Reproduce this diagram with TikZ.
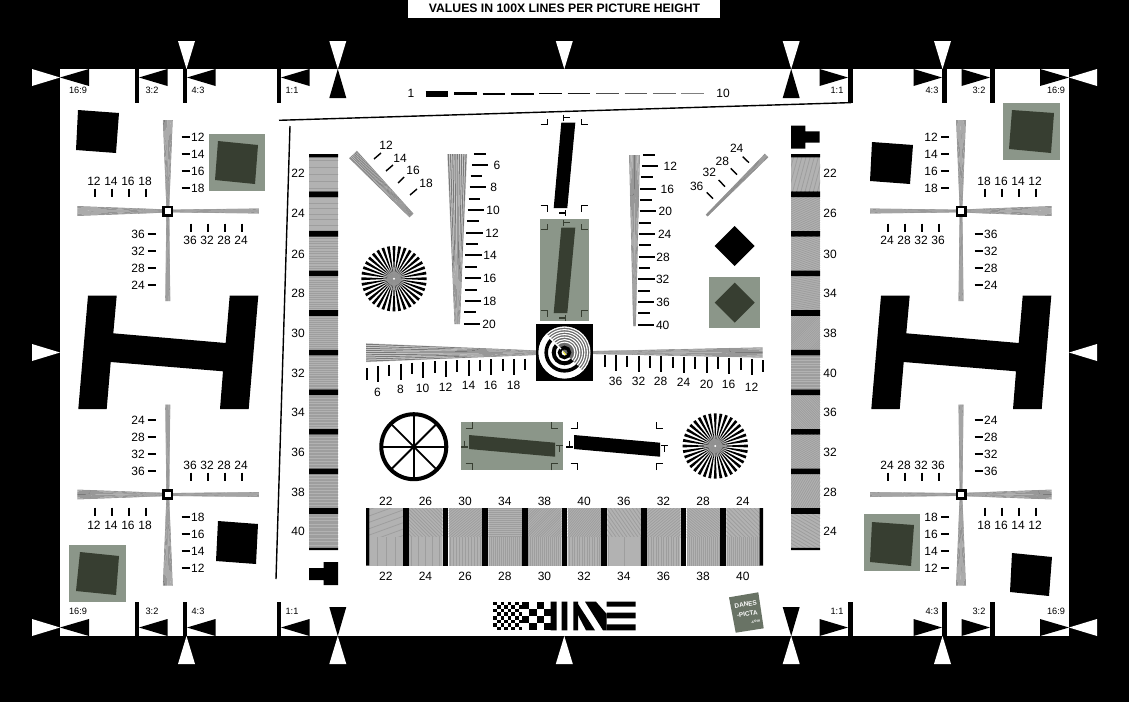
\documentclass[tikz,border=0pt]{standalone}
\usepackage{fontspec}
\setmainfont{Liberation Sans}
\usepackage{tikz}
\definecolor{panel}{HTML}{8B9689}
\definecolor{panelink}{HTML}{373E31}
\definecolor{logogreen}{HTML}{697365}
\tikzstyle{lab} = [font=\fontsize{12}{13}\selectfont, inner sep=0pt, text=black]
\tikzstyle{smalllab} = [font=\fontsize{9.2}{10}\selectfont, inner sep=0pt, text=black]
\tikzstyle{tick} = [black, line width=1.9pt, xshift=.5pt, yshift=.5pt]
\tikzstyle{cropmark} = [line width=1.1pt]
\tikzstyle{taperbase} = [fill=black!18]
\tikzstyle{taperline} = [fill=black!52]
\tikzstyle{moirebase} = [fill=black!30]
\tikzstyle{moireline} = [black!38, line width=0.8pt]

% tapered line wedge: wide end, thin end, wide width, thin width
\newcommand{\taper}[6]{
	\pgfmathsetmacro{\dxx}{#3-#1}
	\pgfmathsetmacro{\dyy}{#4-#2}
	\pgfmathsetmacro{\tlen}{veclen(\dxx,\dyy)}
	\pgfmathsetmacro{\nxx}{-\dyy/\tlen}
	\pgfmathsetmacro{\nyy}{\dxx/\tlen}
	\fill[taperbase] ({#1+.5*#5*\nxx},{#2+.5*#5*\nyy}) -- ({#3+.5*#6*\nxx},{#4+.5*#6*\nyy}) -- ({#3-.5*#6*\nxx},{#4-.5*#6*\nyy}) -- ({#1-.5*#5*\nxx},{#2-.5*#5*\nyy}) -- cycle;
	\foreach \k in {0,...,8} {
		\pgfmathsetmacro{\fa}{(\k+.25)/9-.5}
		\pgfmathsetmacro{\fb}{(\k+.75)/9-.5}
		\fill[taperline] ({#1+\fa*#5*\nxx},{#2+\fa*#5*\nyy}) -- ({#3+\fa*#6*\nxx},{#4+\fa*#6*\nyy}) -- ({#3+\fb*#6*\nxx},{#4+\fb*#6*\nyy}) -- ({#1+\fb*#5*\nxx},{#2+\fb*#5*\nyy}) -- cycle;
	}
}
% cross of four wedges; #3 and #4 give the side of the wide arms
\newcommand{\crosshair}[4]{
	\taper{#1}{#2+#3*91}{#1}{#2+#3*5}{10}{3}
	\taper{#1}{#2-#3*90}{#1}{#2-#3*5}{5}{3}
	\taper{#1+#4*90.5}{#2}{#1+#4*5}{#2}{10}{3.5}
	\taper{#1-#4*91}{#2}{#1-#4*5}{#2}{5}{3}
	\fill[black] (#1-5.5,#2-5.5) rectangle (#1+5.5,#2+5.5);
	\fill[white] (#1-2.75,#2-2.75) rectangle (#1+2.75,#2+2.75);
}
% rectangle of fine lines
\newcommand{\moire}[6]{
	\begin{scope}
		\clip (#1,#2) rectangle (#3,#4);
		\fill[moirebase] (#1,#2) rectangle (#3,#4);
		\begin{scope}[shift={({(#1+#3)/2},{(#2+#4)/2})},rotate=#5]
			\foreach \k in {-24,...,24}
				\draw[moireline] (-70,\k*#6) -- (70,\k*#6);
		\end{scope}
	\end{scope}
}
\newcommand{\siemens}[2]{
	\foreach \a in {0,10,...,350}
		\fill[black] (#1,#2) -- +(\a-2.5:32.7) -- +(\a+2.5:32.7) -- cycle;
	\fill[black!42, opacity=.5] (#1,#2) circle (11);
	\fill[black!42, opacity=.9] (#1,#2) circle (7);
	\fill[white] (#1,#2) circle (1.1);
}
\newcommand{\ibeam}[1]{
	\fill[black, xshift=#1] (881,295.7) -- (909.7,295.7) -- (906.3,333.3) -- (1018.7,343) -- (1022.7,295.7) -- (1051.3,295.7) -- (1041.7,409) -- (1013,409) -- (1016,371.3) -- (903.7,362) -- (899.7,409) -- (871.3,409) -- cycle;
}
% corner and centre marks round the upright bar
\newcommand{\uprightbar}[1]{
	\fill (561.3,122.7) -- (575.3,122.7) -- (567.3,208) -- (553.7,208) -- cycle;
	\draw[cropmark, #1] (540.7,124.7) -- (547.3,124.7) -- (547.3,119.3);
	\draw[cropmark, #1] (581.7,119.3) -- (581.7,124.7) -- (588.3,124.7);
	\draw[cropmark, #1] (563.7,114.7) -- (563.7,120.7) (563.7,117.7) -- (570.3,117.7);
	\draw[cropmark, #1] (540.7,205.7) -- (547.3,205.7) -- (547.3,211.7);
	\draw[cropmark, #1] (581.7,211.7) -- (581.7,205.7) -- (588.3,205.7);
	\draw[cropmark, #1] (565.3,210) -- (565.3,216) (559,213) -- (565.3,213);
}
% the same round the lying bar
\newcommand{\lyingbar}[1]{
	\fill (574,435) -- (660,442.7) -- (660,456.7) -- (574,449) -- cycle;
	\draw[cropmark, #1] (570.7,428.3) -- (577.3,428.3) -- (577.3,422.3);
	\draw[cropmark, #1] (656.7,422.3) -- (656.7,428.3) -- (663.3,428.3);
	\draw[cropmark, #1] (570.7,463.7) -- (577.3,463.7) -- (577.3,470);
	\draw[cropmark, #1] (656.7,470) -- (656.7,463.7) -- (663.3,463.7);
	\draw[cropmark, #1] (566,447) -- (572.7,447) (569.3,440.7) -- (569.3,447);
	\draw[cropmark, #1] (661,445.3) -- (667.7,445.3) (664.3,445.3) -- (664.3,451.7);
}

\begin{document}
\begin{tikzpicture}[x=1pt, y=-1pt]
		\useasboundingbox (0,0) rectangle (1129,702);
		
		% Frame
		\fill[black] (0,0) rectangle (1129,702);
		\fill[white] (60,69) rectangle (1069,636);
		\fill[white] (408,0) rectangle (720,18);
		\node (title) [font=\bfseries\fontsize{12.25}{13}\selectfont, inner sep=0pt] at (564.5,8.5) {VALUES IN 100X LINES PER PICTURE HEIGHT};
		
		% Pointers on the edges
		\foreach \x in {186.5,337.8,564.3,791.2,942.5} {
			\fill[white] (\x-8.5,41) -- (\x+8.5,41) -- (\x,69) -- cycle;
			\fill[white] (\x-8.5,664) -- (\x+8.5,664) -- (\x,636) -- cycle;
		}
		\foreach \x in {337.8,791.2} {
			\fill[black] (\x-8.5,98) -- (\x+8.5,98) -- (\x,69) -- cycle;
			\fill[black] (\x-8.5,607) -- (\x+8.5,607) -- (\x,636) -- cycle;
		}
		\foreach \y in {77.5,352.5,627.5} {
			\fill[white] (32,\y-8.5) -- (32,\y+8.5) -- (60,\y) -- cycle;
			\fill[white] (1097,\y-8.5) -- (1097,\y+8.5) -- (1069,\y) -- cycle;
		}
		\foreach \y in {77.5,627.5} {
			\fill[black] (89,\y-8.5) -- (89,\y+8.5) -- (60,\y) -- cycle;
			\fill[black] (1040,\y-8.5) -- (1040,\y+8.5) -- (1069,\y) -- cycle;
			\foreach \x in {139,187,281}
				\fill[black] (\x+28.5,\y-8.5) -- (\x+28.5,\y+8.5) -- (\x,\y) -- cycle;
			\foreach \x in {848,942,990}
				\fill[black] (\x-28.5,\y-8.5) -- (\x-28.5,\y+8.5) -- (\x,\y) -- cycle;
		}
		\foreach \x in {134.5,182.5,276.5,848,942,990} {
			\fill[black] (\x,69) rectangle (\x+4.5,103);
			\fill[black] (\x,602) rectangle (\x+4.5,636);
		}
		\foreach \x/\t in {78/16:9,152/3:2,198/4:3,292/1:1,837/1:1,932/4:3,979/3:2,1056/16:9} {
			\node (top\x) [smalllab] at (\x,90.5) {\t};
			\node (bot\x) [smalllab] at (\x,611) {\t};
		}
		
		% Frame lines and line count scale
		\draw[black, line width=1.4pt] (279,120.3) -- (851,102.6);
		\draw[black, line width=1.4pt] (290,126) -- (276,579);
		\node (scalea) [lab] at (411,93.5) {1};
		\node (scaleb) [lab] at (723,93.5) {10};
		\foreach \i/\w/\g in {0/5.5/100,1/3/100,2/2/100,3/1.6/100,4/1.4/100,5/1.2/90,6/1/70,7/1/65,8/.9/60,9/.9/50}
			\draw[black!\g, line width=\w pt] ({425.7+28.4*\i},{94-.1*\i}) -- ({448.3+28.4*\i},{94-.1*\i});
		
		% Corner squares
		\fill[black] (78,110) -- (119,113) -- (116,153) -- (76,150) -- cycle;
		\fill[black] (218,521) -- (258,524) -- (256,564) -- (216,561) -- cycle;
		\fill[black] (872,142) -- (913,145) -- (910,184) -- (870,181) -- cycle;
		\fill[black] (1012,553) -- (1052,557) -- (1049,596) -- (1010,592) -- cycle;
		\fill[panel] (208.5,134) rectangle (265,191);
		\fill[panelink] (218,141) -- (258,145) -- (255,184) -- (215,180) -- cycle;
		\fill[panel] (69,545) rectangle (126,602);
		\fill[panelink] (80,552) -- (119,556) -- (116,595) -- (76,591) -- cycle;
		\fill[panel] (1003,103) rectangle (1060,160);
		\fill[panelink] (1012,110) -- (1054,113) -- (1051,153) -- (1009,149) -- cycle;
		\fill[panel] (864,514) rectangle (920,571);
		\fill[panelink] (872,522) -- (914,525) -- (911,566) -- (870,562) -- cycle;
		
		% Crosses and their numbers
		\crosshair{167.8}{211}{-1}{-1}
		\crosshair{167.8}{494.5}{1}{-1}
		\crosshair{961}{211}{-1}{1}
		\crosshair{961}{494.5}{1}{1}
		\foreach \yy/\d in {137/12,154/14,171/16,188/18} {
			\draw[tick] (181,\yy+.5) -- (189,\yy+.5);
			\node (tla\d) [lab, anchor=west] at (191,\yy) {\d};
			\draw[tick] (948,\yy+.5) -- (940,\yy+.5);
			\node (tra\d) [lab, anchor=east] at (938,\yy) {\d};
		}
		\foreach \yy/\d in {517/18,534/16,551/14,568/12} {
			\draw[tick] (181,\yy+.5) -- (189,\yy+.5);
			\node (bla\d) [lab, anchor=west] at (191,\yy) {\d};
			\draw[tick] (948,\yy+.5) -- (940,\yy+.5);
			\node (bra\d) [lab, anchor=east] at (938,\yy) {\d};
		}
		\foreach \yy/\d in {234/36,251/32,268/28,285/24} {
			\draw[tick] (147,\yy+.5) -- (155,\yy+.5);
			\node (tlb\d) [lab, anchor=east] at (145,\yy) {\d};
			\draw[tick] (974,\yy+.5) -- (982,\yy+.5);
			\node (trb\d) [lab, anchor=west] at (984,\yy) {\d};
		}
		\foreach \yy/\d in {420/24,437/28,454/32,471/36} {
			\draw[tick] (147,\yy+.5) -- (155,\yy+.5);
			\node (blb\d) [lab, anchor=east] at (145,\yy+.5) {\d};
			\draw[tick] (974,\yy+.5) -- (982,\yy+.5);
			\node (brb\d) [lab, anchor=west] at (984,\yy+.5) {\d};
		}
		\foreach \x/\d in {94/12,111/14,128/16,145/18} {
			\draw[tick] (\x+.5,189) -- (\x+.5,197);
			\node (tlc\d) [lab] at (\x,181) {\d};
			\draw[tick] (\x+.5,508) -- (\x+.5,516);
			\node (blc\d) [lab] at (\x,525) {\d};
		}
		\foreach \x/\d in {984/18,1001/16,1018/14,1035/12} {
			\draw[tick] (\x+.5,189) -- (\x+.5,197);
			\node (trc\d) [lab] at (\x,181) {\d};
			\draw[tick] (\x+.5,508) -- (\x+.5,516);
			\node (brc\d) [lab] at (\x,525) {\d};
		}
		\foreach \x/\d in {190/36,207/32,224/28,241/24} {
			\draw[tick] (\x+.5,224) -- (\x+.5,232);
			\node (tld\d) [lab] at (\x,240) {\d};
			\draw[tick] (\x+.5,473) -- (\x+.5,481);
			\node (bld\d) [lab] at (\x,465) {\d};
		}
		\foreach \x/\d in {887/24,904/28,921/32,938/36} {
			\draw[tick] (\x+.5,224) -- (\x+.5,232);
			\node (trd\d) [lab] at (\x,240) {\d};
			\draw[tick] (\x+.5,473) -- (\x+.5,481);
			\node (brd\d) [lab] at (\x,465) {\d};
		}
		
		% Big beams
		\ibeam{0pt}
		\ibeam{-793pt}
		
		% Side strips
		\foreach \d/\y/\p [count=\i from 0] in {22/173/7,24/213/5.5,26/254/2.5,28/293/2.2,30/333/2,32/373/1.8,34/412/1.6,36/452/1.5,38/492/1.5,40/531/1.4} {
			\moire{309}{157.4+39.6*\i}{338}{191.4+39.6*\i}{0}{\p}
			\node (left\d) [lab] at (298,\y) {\d};
		}
		\foreach \d/\y/\p/\r [count=\i from 0] in {22/173/4/75,26/213/2/25,30/254/2/-20,34/293/1.8/10,38/333/1.6/45,40/373/1.6/0,36/412/1.7/-45,32/452/1.8/30,28/492/2/60,24/531/3/-30} {
			\moire{791}{157.4+39.6*\i}{820}{191.4+39.6*\i}{\r}{\p}
			\node (right\d) [lab] at (830,\y) {\d};
		}
		\fill[black] (309,154) rectangle (338,157.4) (791,154) rectangle (820,157.4);
		\fill[black] (309,547.8) rectangle (338,550) (791,547.8) rectangle (820,550);
		\foreach \i in {1,...,9}
			\fill[black] (309,{151.8+39.6*\i}) rectangle (338,{157.4+39.6*\i}) (791,{151.8+39.6*\i}) rectangle (820,{157.4+39.6*\i});
		\fill[black] (309,568) -- (323.7,568) -- (323.7,562) -- (338,562) -- (338,585) -- (323.7,585) -- (323.7,580) -- (309,580) -- cycle;
		\fill[black] (791,125.7) -- (805.3,125.7) -- (805.3,131.3) -- (819.7,131.3) -- (819.7,142.7) -- (805.3,142.7) -- (805.3,148.7) -- (791,148.7) -- cycle;
		
		% Slanted wedges
		\taper{353}{154.5}{411.5}{215.5}{11}{5.5}
		\foreach \xa/\ya/\xb/\yb in {374/159/381/153,386/171/393/165,398/183/404/177,410/195/417/189}
			\draw[black, line width=1.4pt] (\xa,\ya) -- (\xb,\yb);
		\foreach \x/\y/\d in {386/145/12,400/158/14,413/170/16,426/183/18}
			\node (slanta\d) [lab] at (\x,\y) {\d};
		\taper{766.5}{155.5}{706.7}{215.5}{5}{2.5}
		\foreach \xa/\ya/\xb/\yb in {742.7/156.7/749/162.7,730.7/168.3/737/174.7,718.7/180/725/186.7,706.7/192.3/713/198.7}
			\draw[black, line width=1.4pt] (\xa,\ya) -- (\xb,\yb);
		\foreach \x/\y/\d in {736.7/148/24,722.3/161/28,709.3/172.7/32,696.7/186/36}
			\node (slantb\d) [lab] at (\x,\y) {\d};
		
		% Upright wedges
		\taper{457.2}{154}{457.2}{324}{20}{5.5}
		\foreach \y/\xa/\xb in {154.5/473.3/485.7,176.5/470/481.3,199.5/468/479.3,221.5/466.3/478,244.5/465/477,267.5/464.3/476.3,290.5/464/476,312.5/463.7/475.3}
			\draw[tick] (\xa,\y) -- (\xb,\y);
		\foreach \y/\xa/\xb/\x/\d in {165.5/471.3/487.3/497/6,187.5/469/485/493.7/8,210.5/467/483/493/10,233.5/465.7/482/492/12,255.5/464.7/481/490/14,278.5/464.3/480.3/489.7/16,301.5/464/480.3/489.7/18,324.5/463.3/479.7/489/20} {
			\draw[tick] (\xa,\y) -- (\xb,\y);
			\node (upa\d) [lab] at (\x,\y) {\d};
		}
		\taper{634.5}{155}{634.5}{326}{11}{2.7}
		\foreach \y/\xa/\xb in {155.5/642.3/654.3,177.5/640.3/652.3,200.5/639.3/651,223.5/638.7/650.3,245.5/638/650,268.5/638/649.7,291.5/637.7/649.3,313.5/637.7/649.3}
			\draw[tick] (\xa,\y) -- (\xb,\y);
		\foreach \y/\xa/\xb/\x/\d in {166.5/641.3/657.7/670.3/12,189.5/639.7/655.7/667.3/16,211.5/639/655/665.3/20,234.5/638.3/654.7/664.7/24,257.5/638/654.3/663/28,279.5/637.7/654/662.7/32,302.5/637.7/653.7/663/36,325.5/637.3/653.7/662.7/40} {
			\draw[tick] (\xa,\y) -- (\xb,\y);
			\node (upb\d) [lab] at (\x,\y) {\d};
		}
		
		% Lying wedges
		\taper{366}{352.7}{536}{352.7}{19}{4.7}
		\foreach \x/\ya/\yb in {366.5/368.7/380.3,388.5/365/376.7,411.5/363/374.7,434.5/361.7/373.3,456.5/360.7/372.3,479.5/360/371.7,502.5/359.3/371,524.5/359/370.7}
			\draw[tick] (\x,\ya) -- (\x,\yb);
		\foreach \x/\ya/\yb/\y/\d in {377.5/366.7/382.7/392/6,400.5/364/380/389.3/8,422.5/362.3/378.3/388.3/10,445.5/361.3/377.3/387/12,468.5/360.3/376/385.3/14,490.5/359.7/375.7/385.3/16,513.5/359.3/375/385/18} {
			\draw[tick] (\x,\ya) -- (\x,\yb);
			\node (lya\d) [lab] at (\x,\y) {\d};
		}
		\taper{762.7}{352.5}{592.3}{352.5}{10.5}{3}
		\foreach \x/\ya/\yb in {604.5/355.7/367.3,626.5/356/367.7,649.5/356.3/368,672.5/357/368.7,694.5/357.3/369,717.5/357.7/369.3,740.5/358.3/370,762.5/360.7/372.3}
			\draw[tick] (\x,\ya) -- (\x,\yb);
		\foreach \x/\ya/\yb/\y/\d in {615.5/355.7/371.7/381.3/36,638.5/356/372/381.3/32,660.5/356.7/372.7/381.3/28,683.5/357.3/373.3/382.7/24,706.5/357.3/373.3/384/20,728.5/358/374/384.7/16,751.5/359.3/375.3/387.7/12} {
			\draw[tick] (\x,\ya) -- (\x,\yb);
			\node (lyb\d) [lab] at (\x,\y) {\d};
		}
		
		% Bars with their marks
		\fill[panel] (540,219) rectangle (589,321.3);
		\fill[panel] (461,421.7) rectangle (563,470.3);
		\begin{scope}[black]
			\uprightbar{black}
			\lyingbar{black}
		\end{scope}
		\begin{scope}[panelink, yshift=-105pt]
			\uprightbar{panelink}
		\end{scope}
		\begin{scope}[panelink, xshift=-105pt]
			\lyingbar{panelink}
		\end{scope}
		
		% Diamonds
		\fill[black] (734.7,226) -- (754.7,246) -- (734.7,266) -- (714.7,246) -- cycle;
		\fill[panel] (709,277) rectangle (760,328);
		\fill[panelink] (734.7,282.7) -- (754.7,302.7) -- (734.7,322.7) -- (714.7,302.7) -- cycle;
		
		% Stars and wheel
		\siemens{394}{278.7}
		\siemens{715.3}{446}
		\draw[black, line width=4pt] (413.8,446.7) circle (32.5);
		\foreach \a in {0,45,135,90}
			\draw[black, line width=1.8pt] (\a:32.5) ++(413.8,446.7) -- ++({-2*32.5*cos(\a)},{-2*32.5*sin(\a)});
		
		% Centre disc
		\fill[black] (536,324) rectangle (593,381);
		\fill[white] (564.5,352.5) circle (26);
		\begin{scope}
			\clip (564.5,352.5) circle (26);
			\fill[black!58] (524.5,312.5) -- (604.5,392.5) -- (604.5,312.5) -- cycle;
			\foreach \r in {25.4,22.9,...,8}
				\draw[white, line width=1.1pt] (564.5,352.5) circle (\r);
		\end{scope}
		\begin{scope}
			\clip (524.5,312.5) -- (604.5,392.5) -- (524.5,392.5) -- cycle;
			\draw[black, line width=3.6pt] (564.5,352.5) circle (18.3);
			\draw[black, line width=4pt] (564.5,352.5) circle (10.8);
		\end{scope}
		\draw[black, line width=3.5pt] (564.5,352.5) circle (5);
		\draw[white, line width=1.4pt] (546.7,335) -- (561,349);
		\draw[yellow, line width=.8pt] (563.3,351.7) -- (566,355);
		
		% Bottom panel
		\foreach \t/\b/\ra/\pa/\pb [count=\i from 0] in {22/22/20/6/9,26/24/-45/2.5/7,30/26/40/2/3,34/28/0/2/2,38/30/45/1.8/2,40/32/50/1.8/2.5,36/34/-55/3/16,32/36/40/2.2/2.5,28/38/-40/2/2,24/40/-45/3/2} {
			\moire{369.3+39.67*\i}{508}{403+39.67*\i}{537}{\ra}{\pa}
			\moire{369.3+39.67*\i}{537}{403+39.67*\i}{565.7}{90}{\pb}
			\node (panela\i) [lab] at ({385.8+39.67*\i},501) {\t};
			\node (panelb\i) [lab] at ({385.8+39.67*\i},576) {\b};
		}
		\fill[black] (366,508) rectangle (369.3,565.7) (759.7,508) rectangle (763,565.7);
		\foreach \i in {0,...,8}
			\fill[black] ({403+39.67*\i},508) rectangle ({408.7+39.67*\i},565.7);
		
		% Wordmark
		\foreach \i in {0,...,7}
			\foreach \j in {0,...,7} {
				\pgfmathparse{int(mod(\i+\j,2))}
				\ifnum\pgfmathresult=0
					\fill[black] ({493.3+3.62*\i},{601.7+3.58*\j}) rectangle ++(3.62,3.58);
				\fi
			}
		\foreach \i in {0,...,3}
			\foreach \j in {0,...,3} {
				\pgfmathparse{int(mod(\i+\j,2))}
				\ifnum\pgfmathresult=0
					\fill[black] ({522.3+7.1*\i},{601.7+7.15*\j}) rectangle ++(7.1,7.15);
				\fi
			}
		\fill[black] (550.7,601.7) rectangle (556.7,630.3) (561.6,601.7) rectangle (567.3,630.3) (573.3,601.7) rectangle (578,630.3);
		\fill[black] (578,604) -- (595,630.3) -- (586,630.3) -- (578,615) -- cycle;
		\fill[black] (585,601.7) -- (596,601.7) -- (606.7,614) -- (606.7,630.3) -- (603,630.3) -- cycle;
		\fill[black] (606.7,601.7) rectangle (635.7,606.7) (606.7,612.7) rectangle (635.7,618.4) (606.7,624.4) rectangle (635.7,630.3);
		
		% Tag
		\fill[logogreen] (729,597.3) -- (758.3,592.3) -- (763.7,628.3) -- (735.7,632.7) -- cycle;
		\node (danes) [font=\bfseries\fontsize{6.4}{6.5}\selectfont, text=white, inner sep=0pt, rotate=9] at (745.7,604.4) {DANES};
		\node (picta) [font=\bfseries\fontsize{6.4}{6.5}\selectfont, text=white, inner sep=0pt, rotate=9] at (747.3,613.8) {-PICTA};
		\node (dotcom) [font=\bfseries\fontsize{4}{4}\selectfont, text=white, inner sep=0pt, rotate=9] at (755.5,621.5) {.com};
		
	\end{tikzpicture}
\end{document}
